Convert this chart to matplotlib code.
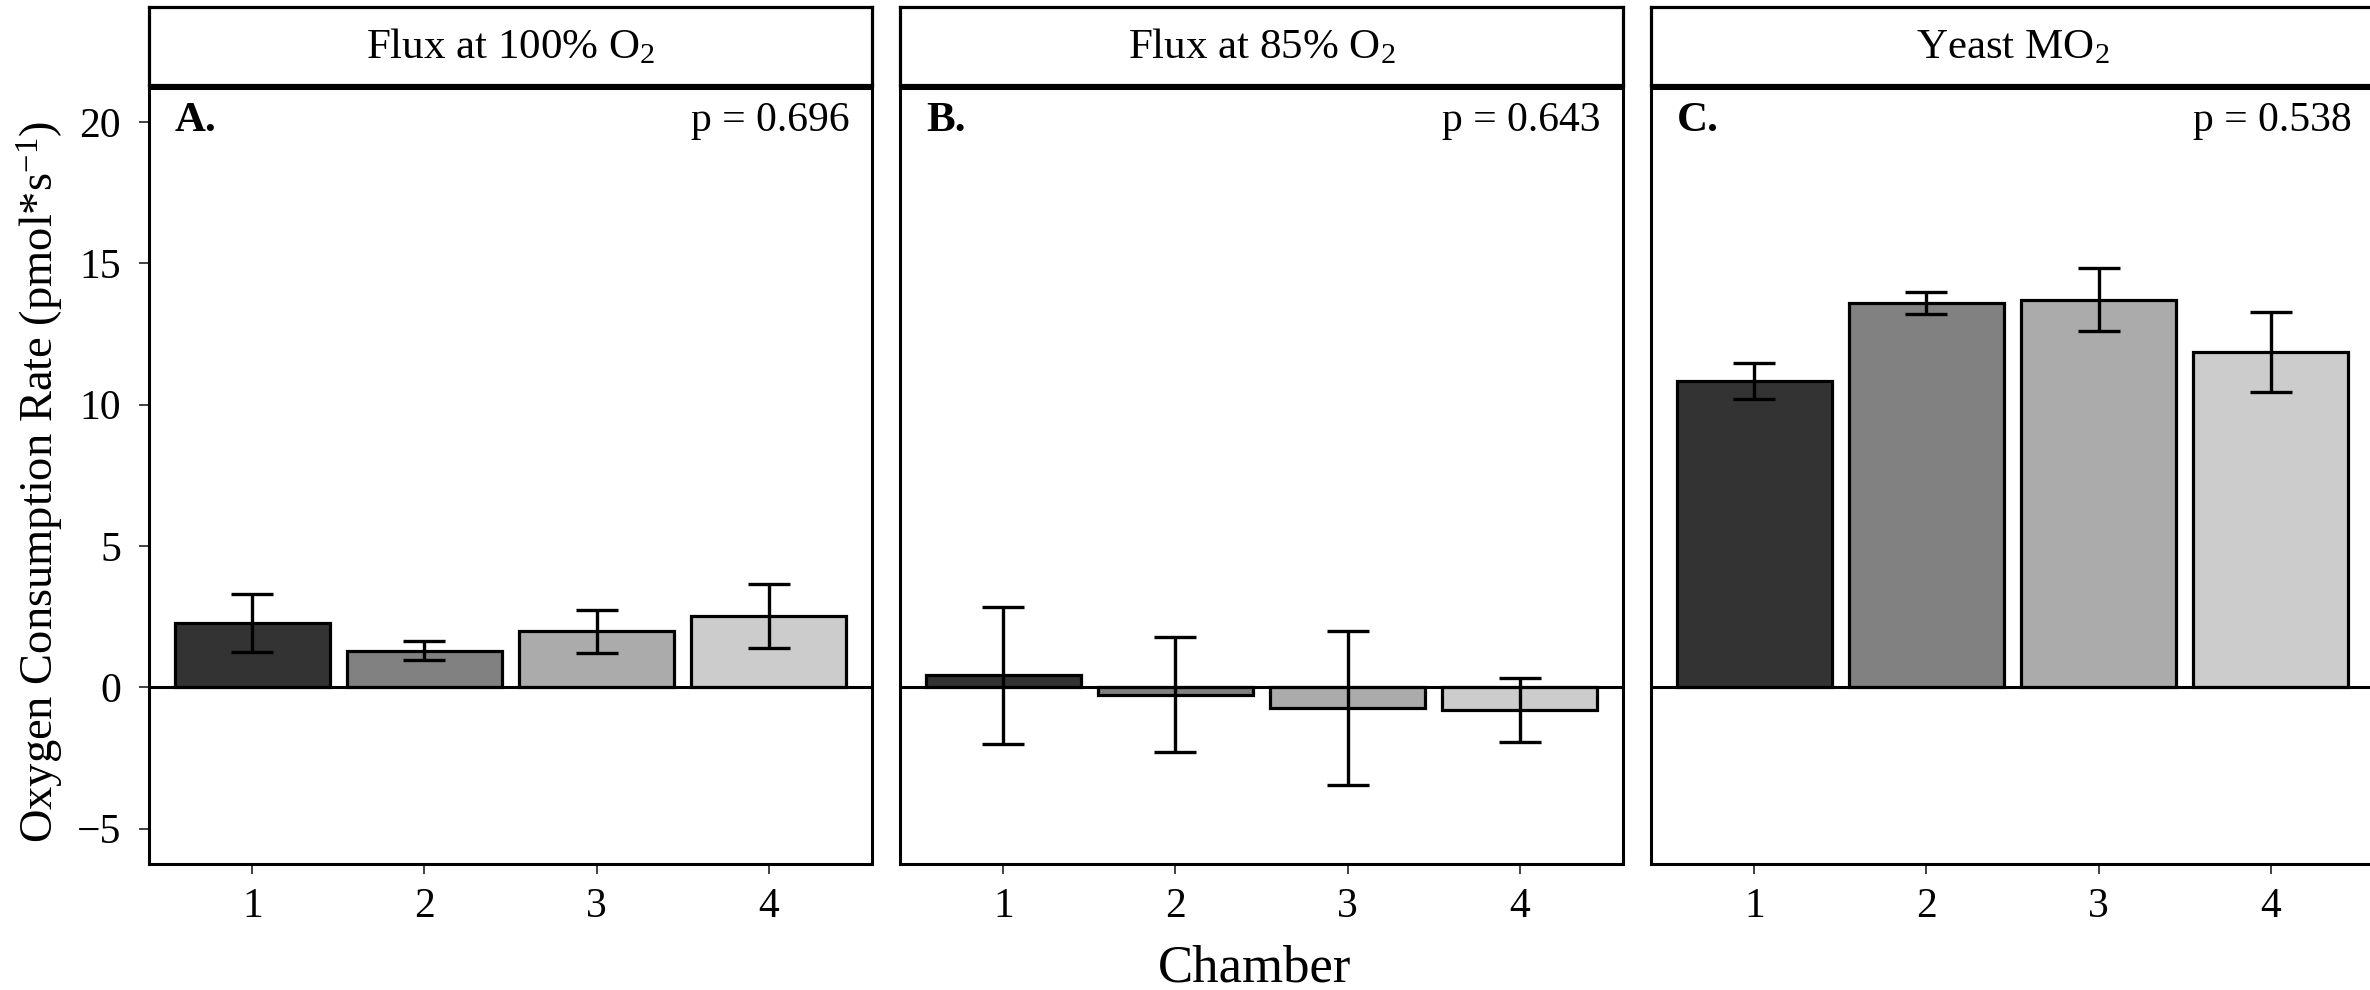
"""Oxygen consumption by chamber, three faceted panels (ggplot-like layout)."""

import matplotlib
matplotlib.use("Agg")
import matplotlib.pyplot as plt

chambers = [1, 2, 3, 4]
panel_titles = ["Flux at 100% O$_2$", "Flux at 85% O$_2$", "Yeast MO$_2$"]
panel_tags = ["A.", "B.", "C."]
p_values = ["p = 0.696", "p = 0.643", "p = 0.538"]

flux100_mean = [2.27, 1.30, 1.98, 2.52]
flux100_se = [1.03, 0.33, 0.76, 1.14]
flux85_mean = [0.43, -0.26, -0.74, -0.80]
flux85_se = [2.42, 2.03, 2.72, 1.13]
yeast_mean = [10.84, 13.59, 13.71, 11.87]
yeast_se = [0.64, 0.39, 1.11, 1.42]

fills = ["#333333", "#818181", "#ABABAB", "#CCCCCC"]
y_ticks = [-5, 0, 5, 10, 15, 20]

plt.rcParams.update({
    "font.family": ["Liberation Serif", "DejaVu Serif"],
    "mathtext.fontset": "custom",
    "mathtext.rm": "Liberation Serif",
    "mathtext.it": "Liberation Serif:italic",
    "mathtext.bf": "Liberation Serif:bold",
})

W, H = 2370, 990
fig = plt.figure(figsize=(W / 100, H / 100), dpi=100)

lefts = [149, 900, 1651]
pw = 723
top, bottom = 88, 864
strip_top, strip_bot = 7, 85

series = [(flux100_mean, flux100_se), (flux85_mean, flux85_se), (yeast_mean, yeast_se)]

for i, (means, ses) in enumerate(series):
    ax = fig.add_axes([lefts[i] / W, 1 - bottom / H, pw / W, (bottom - top) / H])
    ax.bar(chambers, means, width=0.9, color=fills, edgecolor="black",
           linewidth=2.3, zorder=2)
    ax.axhline(0, color="black", linewidth=2.2, zorder=3)
    ax.errorbar(chambers, means, yerr=ses, fmt="none", ecolor="black",
                elinewidth=2.4, capsize=15, capthick=2.4, zorder=4)
    ax.set_xlim(0.4, 4.6)
    ax.set_ylim(-6.25, 21.2)
    ax.set_xticks(chambers)
    ax.set_xticklabels([str(c) for c in chambers])
    ax.tick_params(axis="x", length=7, width=1.3, color="#333333",
                   labelsize=30, pad=10)
    if i == 0:
        ax.set_yticks(y_ticks)
        ax.set_yticklabels([f"{t}".replace("-", "\u2212") for t in y_ticks])
        ax.tick_params(axis="y", length=7, width=1.3, color="#333333",
                       labelsize=30, pad=13)
    else:
        ax.set_yticks([])
    for s in ax.spines.values():
        s.set_linewidth(2.2)
        s.set_color("black")
    ax.text(0.55, 20.05, panel_tags[i], fontsize=31, fontweight="bold",
            ha="left", va="center")
    ax.text(4.47, 20.05, p_values[i], fontsize=30, ha="right", va="center")

    sax = fig.add_axes([lefts[i] / W, 1 - strip_bot / H, pw / W,
                        (strip_bot - strip_top) / H])
    sax.set_xticks([])
    sax.set_yticks([])
    for s in sax.spines.values():
        s.set_linewidth(2.3)
        s.set_color("black")
    sax.text(0.5, 0.48, panel_titles[i], fontsize=31, ha="center", va="center",
             transform=sax.transAxes)

fig.text(41 / W, 1 - 482 / H, "Oxygen Consumption Rate (pmol*s$^{-1}$)",
         rotation=90, fontsize=33.5, ha="center", va="center")
fig.text(1255 / W, 1 - 982 / H, "Chamber", fontsize=38, ha="center",
         va="baseline")

fig.savefig("out.png", dpi=100)
